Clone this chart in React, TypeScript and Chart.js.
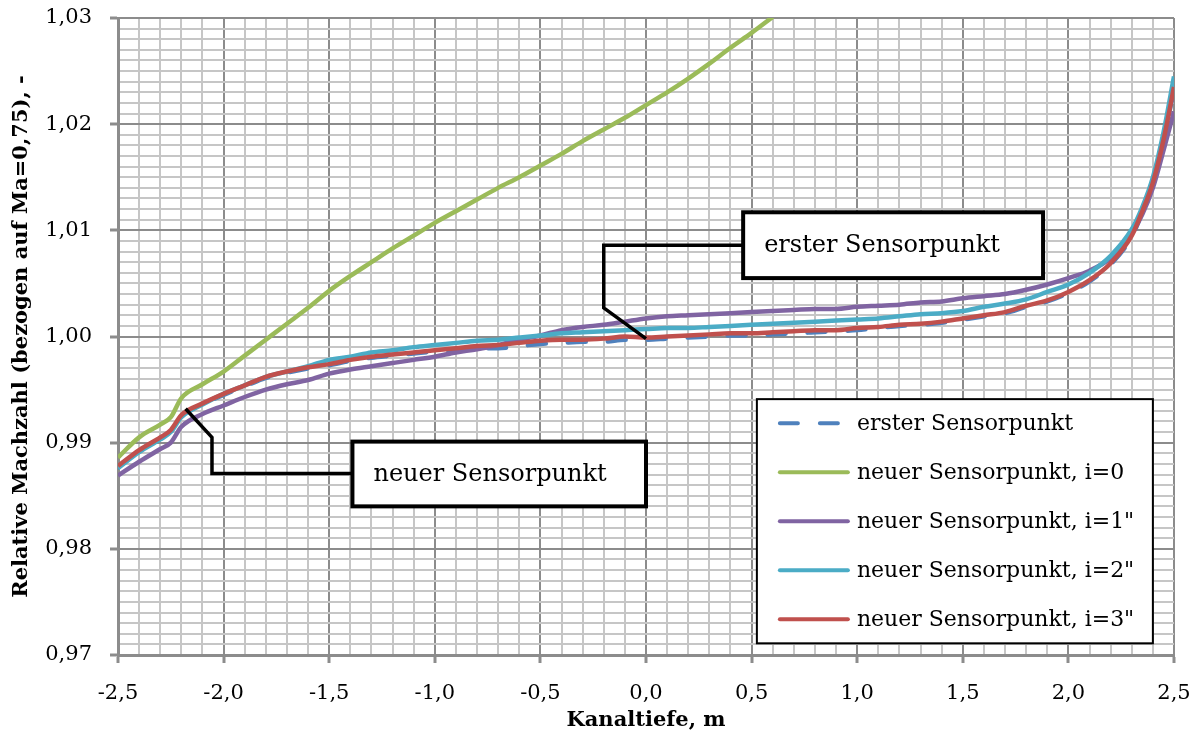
import { useEffect, useRef } from "react";
import { Chart, registerables } from "chart.js";

Chart.register(...registerables);

// Kanaltiefe in m
const depth = [
  -2.5, -2.4, -2.3, -2.25, -2.2, -2.1, -2.0, -1.9, -1.8, -1.7, -1.6, -1.5, -1.4, -1.3,
  -1.2, -1.1, -1.0, -0.9, -0.8, -0.7, -0.6, -0.5, -0.4, -0.3, -0.2, -0.1, 0.0, 0.1, 0.2,
  0.3, 0.4, 0.5, 0.6, 0.7, 0.8, 0.9, 1.0, 1.1, 1.2, 1.3, 1.4, 1.5, 1.6, 1.7, 1.8, 1.9,
  2.0, 2.1, 2.2, 2.3, 2.35, 2.4, 2.45, 2.5,
];

const ersterSensorpunkt = [
  0.9877, 0.9892, 0.9904, 0.9911, 0.9925, 0.9936, 0.9945, 0.9953, 0.9961, 0.9966, 0.997,
  0.9973, 0.9977, 0.998, 0.9982, 0.9984, 0.9986, 0.9987, 0.9989, 0.9989, 0.9991, 0.9993,
  0.9994, 0.9995, 0.9995, 0.9997, 0.9997, 0.9998, 0.9999, 1.0, 1.0001, 1.0001, 1.0002,
  1.0003, 1.0004, 1.0005, 1.0006, 1.0008, 1.001, 1.0011, 1.0013, 1.0016, 1.0019, 1.0022,
  1.0028, 1.0033, 1.0041, 1.0052, 1.0068, 1.0094, 1.0117, 1.0144, 1.0184, 1.0233,
];

const neuerI0 = [
  0.9886, 0.9905, 0.9917, 0.9924, 0.9942, 0.9955, 0.9967, 0.9982, 0.9997, 1.0012, 1.0027,
  1.0043, 1.0057, 1.007, 1.0083, 1.0095, 1.0107, 1.0118, 1.0129, 1.014, 1.015, 1.0161,
  1.0172, 1.0184, 1.0195, 1.0206, 1.0218, 1.023, 1.0243, 1.0257, 1.0272, 1.0286, 1.0301,
  null, null, null, null, null, null, null, null, null, null, null, null, null, null, null,
  null, null, null, null, null, null,
];

const neuerI1 = [
  0.9869, 0.9882, 0.9894, 0.99, 0.9915, 0.9927, 0.9935, 0.9943, 0.995, 0.9955, 0.9959,
  0.9965, 0.9969, 0.9972, 0.9975, 0.9978, 0.9981, 0.9985, 0.9988, 0.9992, 0.9997, 1.0001,
  1.0006, 1.0009, 1.0011, 1.0014, 1.0017, 1.0019, 1.002, 1.0021, 1.0022, 1.0023, 1.0024,
  1.0025, 1.0026, 1.0026, 1.0028, 1.0029, 1.003, 1.0032, 1.0033, 1.0036, 1.0038, 1.004,
  1.0044, 1.0049, 1.0055, 1.0062, 1.0074, 1.0097, 1.0115, 1.014, 1.0175, 1.0212,
];

const neuerI2 = [
  0.9876, 0.9891, 0.9903, 0.991, 0.9924, 0.9936, 0.9946, 0.9954, 0.9962, 0.9967, 0.9972,
  0.9978, 0.9981, 0.9985, 0.9987, 0.999, 0.9992, 0.9994, 0.9996, 0.9997, 0.9999, 1.0001,
  1.0003, 1.0004, 1.0005, 1.0006, 1.0007, 1.0008, 1.0008, 1.0009, 1.001, 1.0011, 1.0012,
  1.0013, 1.0014, 1.0015, 1.0016, 1.0017, 1.0019, 1.0021, 1.0022, 1.0024, 1.0028, 1.0031,
  1.0035, 1.0042, 1.0049, 1.006, 1.0076, 1.0101, 1.0122, 1.015, 1.0192, 1.0245,
];

const neuerI3 = [
  0.9878, 0.9893, 0.9905, 0.9912, 0.9926, 0.9937, 0.9946, 0.9954, 0.9962, 0.9967, 0.9971,
  0.9974, 0.9978, 0.9981, 0.9983, 0.9985, 0.9987, 0.9989, 0.9991, 0.9992, 0.9994, 0.9996,
  0.9997, 0.9997, 0.9998, 1.0, 0.9999, 1.0, 1.0001, 1.0002, 1.0003, 1.0003, 1.0004, 1.0005,
  1.0006, 1.0006, 1.0008, 1.0009, 1.0011, 1.0012, 1.0014, 1.0017, 1.002, 1.0023, 1.0029,
  1.0034, 1.0042, 1.0053, 1.0069, 1.0095, 1.0118, 1.0145, 1.0185, 1.0235,
];

const seriesValues = [ersterSensorpunkt, neuerI0, neuerI1, neuerI2, neuerI3];
const seriesLabels = [
  "erster Sensorpunkt",
  "neuer Sensorpunkt, i=0",
  'neuer Sensorpunkt, i=1"',
  'neuer Sensorpunkt, i=2"',
  'neuer Sensorpunkt, i=3"',
];
const seriesColors = ["#4F81BD", "#9BBB59", "#8064A2", "#4BACC6", "#C0504D"];

const xRange = [-2.5, 2.5];
const yRange = [0.97, 1.03];
const xTitle = "Kanaltiefe, m";
const yTitle = "Relative Machzahl (bezogen auf Ma=0,75), -";

// Callouts: box [x0, yTop, x1, yBottom] and leader path, both in data units
const callouts = [
  {
    text: "erster Sensorpunkt",
    box: [0.46, 1.0117, 1.88, 1.0055],
    path: [
      [0.46, 1.0086],
      [-0.2, 1.0086],
      [-0.2, 1.0027],
      [0.0, 0.9998],
    ],
  },
  {
    text: "neuer Sensorpunkt",
    box: [-1.39, 0.9901, 0.0, 0.984],
    path: [
      [-1.39, 0.9871],
      [-2.055, 0.9871],
      [-2.055, 0.9905],
      [-2.18, 0.9932],
    ],
  },
];

// Legend frame in data units [x0, yTop, x1, yBottom]
const legendBox = [0.525, 0.9941, 2.4, 0.9711];

const FONT = "'DejaVu Serif', 'Liberation Serif', serif";

const isMajorX = (v: number) => Math.abs(v * 2 - Math.round(v * 2)) < 1e-6;
const isMajorY = (v: number) => Math.abs(v * 100 - Math.round(v * 100)) < 1e-6;

const MAJOR_GRID = "#8c8c8c";
const MINOR_GRID = "#c6c6c6";
const AXIS_GRAY = "#8c8c8c";

const overlayPlugin = {
  id: "overlay",
  afterDraw(chart: any) {
    const { ctx } = chart;
    const xs = chart.scales.x;
    const ys = chart.scales.y;
    const px = (v: number) => xs.getPixelForValue(v);
    const py = (v: number) => ys.getPixelForValue(v);

    ctx.save();

    // callouts
    callouts.forEach((c) => {
      ctx.beginPath();
      c.path.forEach(([x, y], i) => {
        if (i === 0) ctx.moveTo(px(x), py(y));
        else ctx.lineTo(px(x), py(y));
      });
      ctx.strokeStyle = "#000";
      ctx.lineWidth = 3.5;
      ctx.lineJoin = "miter";
      ctx.stroke();

      const l = px(c.box[0]);
      const t = py(c.box[1]);
      const r = px(c.box[2]);
      const b = py(c.box[3]);
      ctx.fillStyle = "#fff";
      ctx.fillRect(l, t, r - l, b - t);
      ctx.lineWidth = 4;
      ctx.strokeRect(l, t, r - l, b - t);
      ctx.fillStyle = "#000";
      ctx.font = `24px ${FONT}`;
      ctx.textBaseline = "middle";
      ctx.textAlign = "left";
      ctx.fillText(c.text, l + 21, (t + b) / 2 + 1);
    });

    // legend
    const ll = px(legendBox[0]);
    const lt = py(legendBox[1]);
    const lr = px(legendBox[2]);
    const lb = py(legendBox[3]);
    ctx.fillStyle = "#fff";
    ctx.fillRect(ll, lt, lr - ll, lb - lt);
    ctx.strokeStyle = "#000";
    ctx.lineWidth = 2;
    ctx.strokeRect(ll, lt, lr - ll, lb - lt);

    seriesLabels.forEach((label, i) => {
      const cy = lt + 24 + i * 49;
      ctx.beginPath();
      ctx.strokeStyle = seriesColors[i];
      ctx.lineWidth = 4;
      ctx.lineCap = "round";
      if (i === 0) {
        ctx.setLineDash([18, 22]);
        ctx.moveTo(ll + 23, cy);
        ctx.lineTo(ll + 81, cy);
      } else {
        ctx.setLineDash([]);
        ctx.moveTo(ll + 23, cy);
        ctx.lineTo(ll + 91, cy);
      }
      ctx.stroke();
      ctx.setLineDash([]);
      ctx.fillStyle = "#000";
      ctx.font = `22px ${FONT}`;
      ctx.textBaseline = "middle";
      ctx.textAlign = "left";
      ctx.fillText(label, ll + 100, cy + 1);
    });

    ctx.restore();
  },
};

export default function App() {
  const canvasRef = useRef<HTMLCanvasElement | null>(null);

  useEffect(() => {
    document.body.style.margin = "0";
    const canvas = canvasRef.current;
    if (!canvas) return;

    const datasets = seriesValues.map((vals, i) => ({
      label: seriesLabels[i],
      data: depth.map((x, j) => ({ x, y: vals[j] })),
      borderColor: seriesColors[i],
      backgroundColor: seriesColors[i],
      borderWidth: 4.5,
      borderDash: i === 0 ? [18, 22] : [],
      borderCapStyle: i === 0 ? "round" : "butt",
      borderJoinStyle: "round",
      pointRadius: 0,
      pointHoverRadius: 0,
      cubicInterpolationMode: "monotone",
      spanGaps: false,
      clip: 0,
      order: seriesValues.length - i,
    }));

    const chart = new Chart(canvas, {
      type: "line",
      data: { datasets: datasets as any },
      plugins: [overlayPlugin],
      options: {
        animation: false,
        responsive: false,
        devicePixelRatio: 1,
        layout: { padding: { top: 18, right: 26, bottom: 0, left: 0 } },
        plugins: {
          legend: { display: false },
          tooltip: { enabled: false },
        },
        scales: {
          x: {
            type: "linear",
            min: xRange[0],
            max: xRange[1],
            afterFit: (s: any) => {
              s.height = 85;
              s.paddingLeft = 0;
              s.paddingRight = 0;
            },
            ticks: {
              stepSize: 0.1,
              autoSkip: false,
              maxTicksLimit: 1000,
              maxRotation: 0,
              padding: 18,
              color: "#000",
              font: { family: FONT, size: 21 },
              callback: (v: any) =>
                isMajorX(Number(v)) ? Number(v).toFixed(1).replace(".", ",") : "",
            },
            grid: {
              color: (c: any) => (isMajorX(c.tick?.value ?? 0) ? MAJOR_GRID : MINOR_GRID),
              lineWidth: 2,
              tickLength: 8,
              tickWidth: 3,
              tickColor: (c: any) =>
                isMajorX(c.tick?.value ?? 0) ? AXIS_GRAY : "rgba(0,0,0,0)",
            },
            border: { color: AXIS_GRAY, width: 3 },
            title: {
              display: true,
              text: xTitle,
              color: "#000",
              font: { family: FONT, size: 21, weight: "bold" },
              padding: { top: 0, bottom: 7 },
            },
          },
          y: {
            type: "linear",
            min: yRange[0],
            max: yRange[1],
            afterFit: (s: any) => {
              s.width = 118;
              s.paddingTop = 0;
              s.paddingBottom = 0;
            },
            ticks: {
              stepSize: 0.001,
              autoSkip: false,
              maxTicksLimit: 1000,
              padding: 18,
              color: "#000",
              font: { family: FONT, size: 21 },
              callback: (v: any) =>
                isMajorY(Number(v)) ? Number(v).toFixed(2).replace(".", ",") : "",
            },
            grid: {
              color: (c: any) => (isMajorY(c.tick?.value ?? 0) ? MAJOR_GRID : MINOR_GRID),
              lineWidth: 2,
              tickLength: 8,
              tickWidth: 3,
              tickColor: (c: any) =>
                isMajorY(c.tick?.value ?? 0) ? AXIS_GRAY : "rgba(0,0,0,0)",
            },
            border: { color: AXIS_GRAY, width: 3 },
            title: {
              display: true,
              text: yTitle,
              color: "#000",
              font: { family: FONT, size: 21, weight: "bold" },
              padding: { top: 9, bottom: 0 },
            },
          },
        },
      },
    });

    return () => chart.destroy();
  }, []);

  return (
    <div style={{ width: 1200, height: 740, background: "#fff" }}>
      <canvas ref={canvasRef} width={1200} height={740} />
    </div>
  );
}
